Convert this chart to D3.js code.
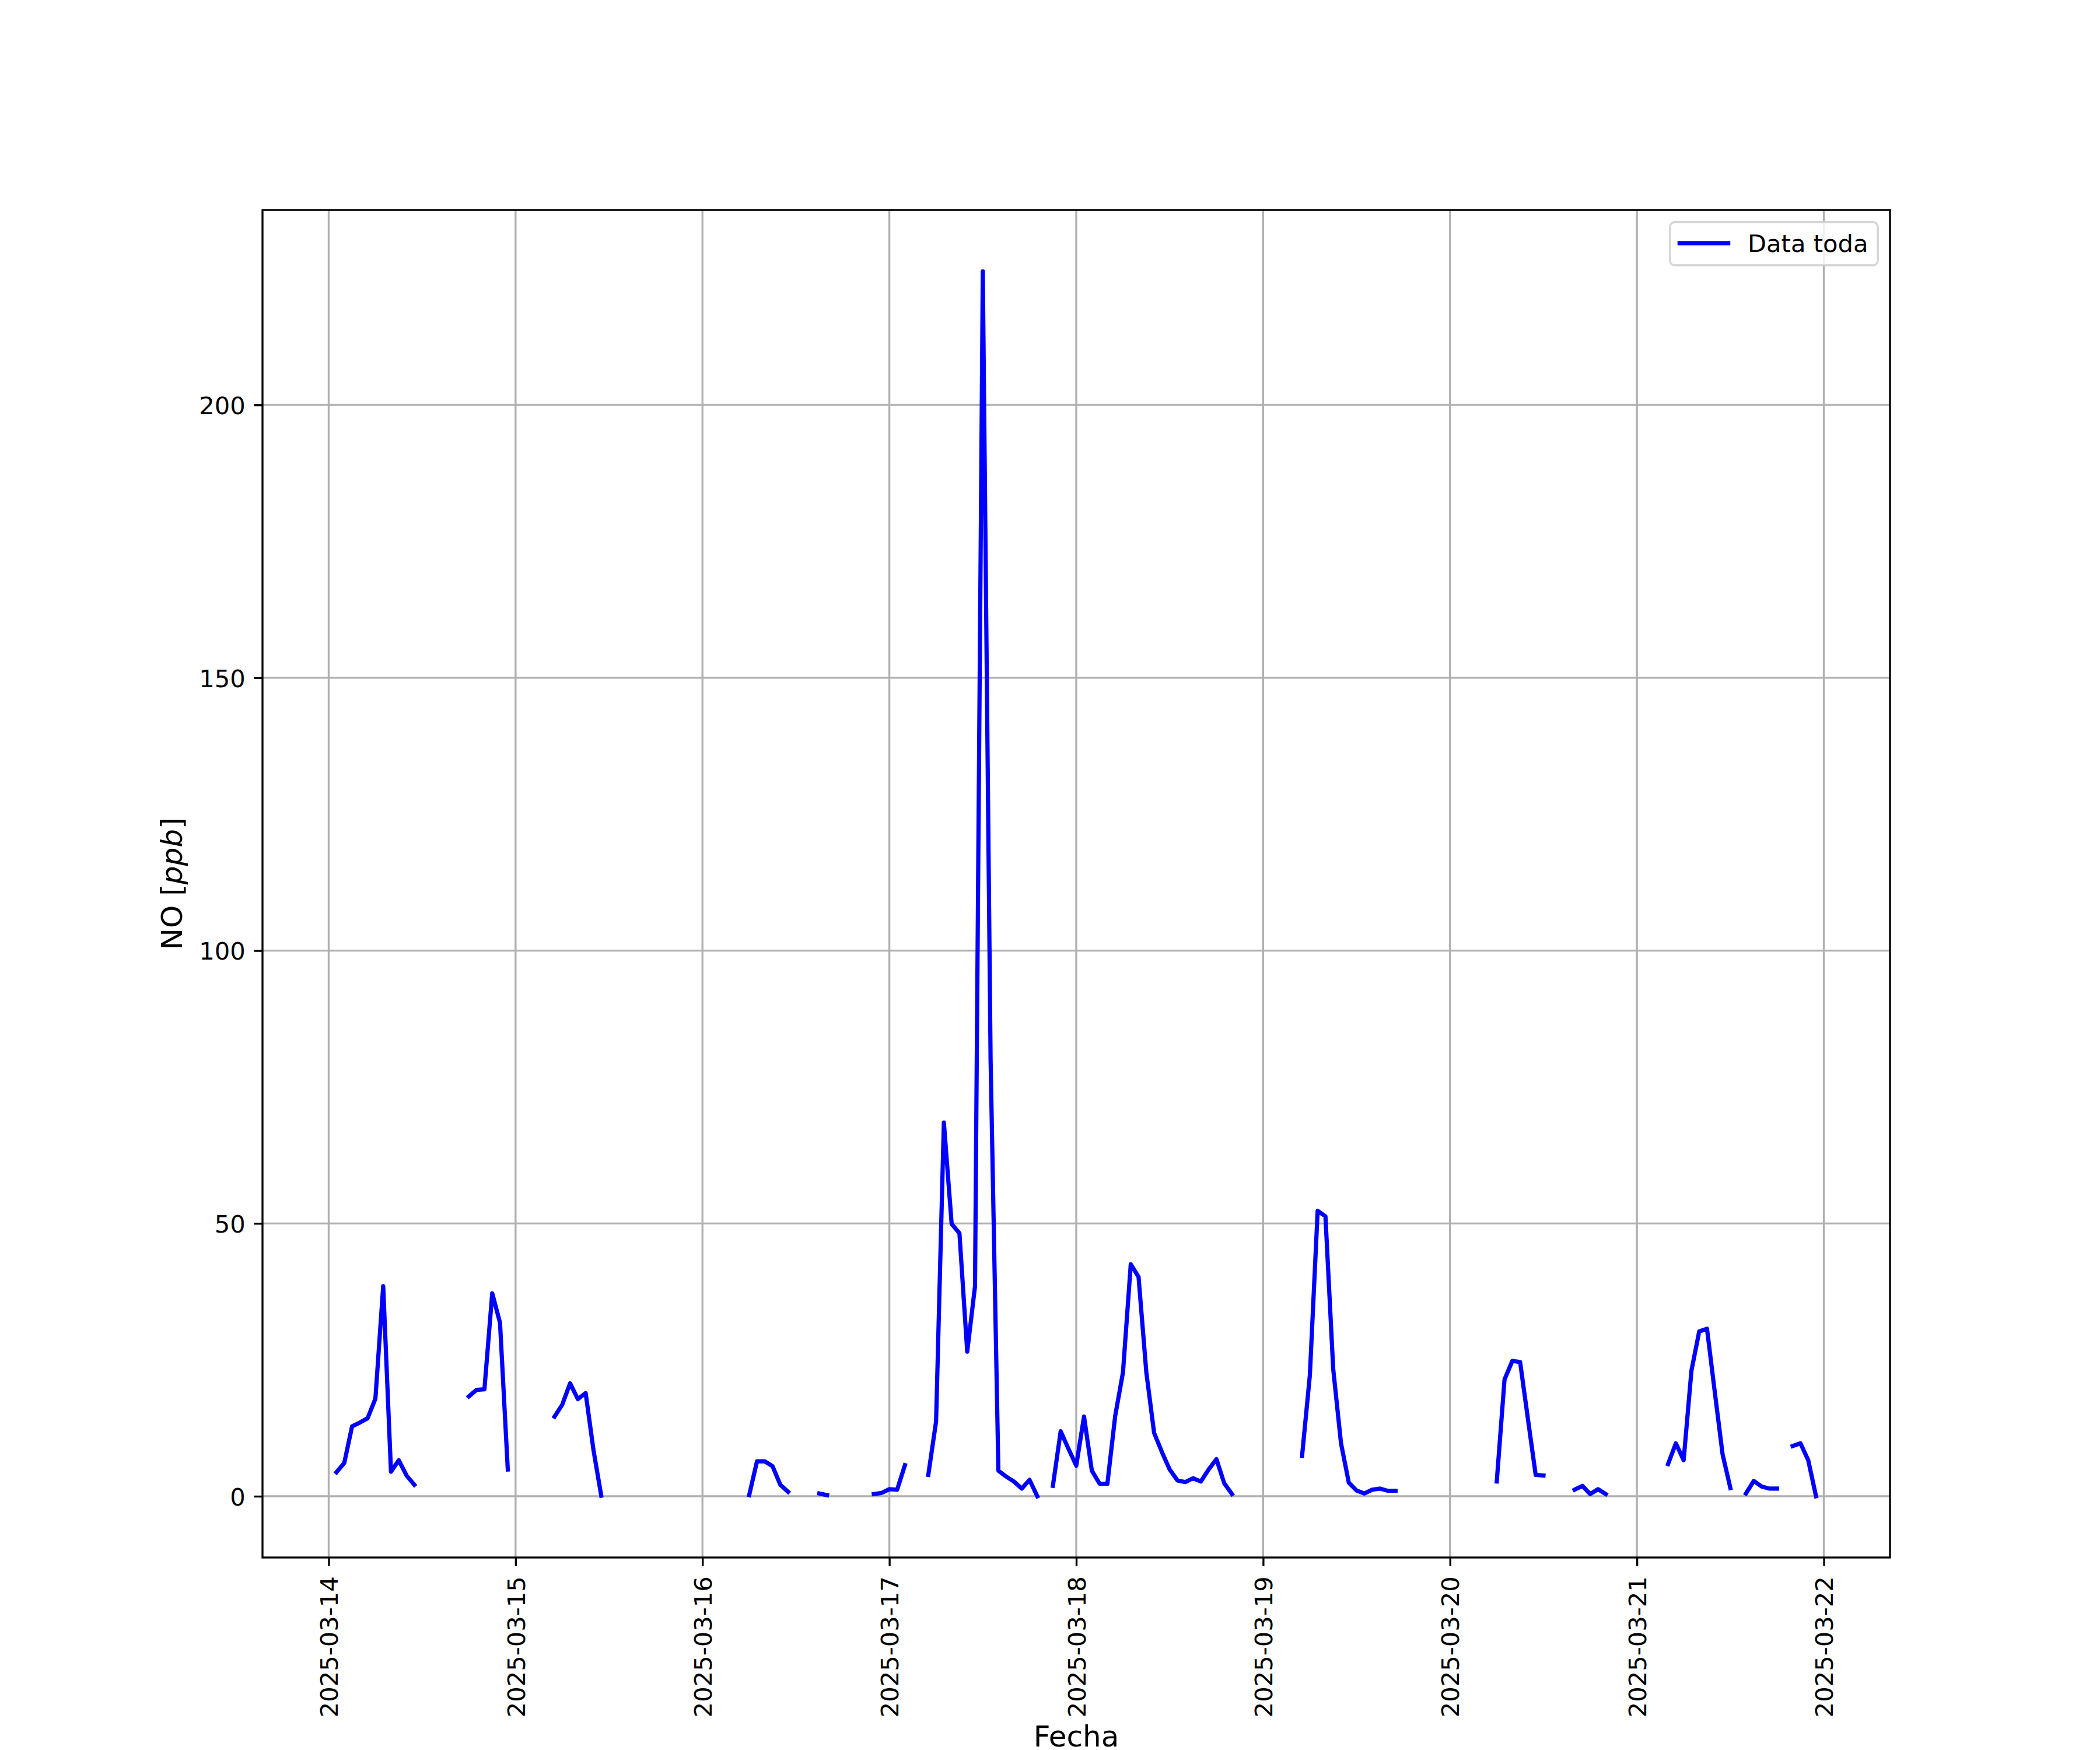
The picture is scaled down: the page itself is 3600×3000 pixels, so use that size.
<!DOCTYPE html>
<html>
<head>
<meta charset="utf-8">
<script src="https://cdn.jsdelivr.net/npm/d3@7"></script>
<style>
  html, body { margin: 0; padding: 0; background: #ffffff; }
  svg { display: block; }
  text { font-family: "DejaVu Sans", sans-serif; fill: #000; }
</style>
</head>
<body>
<script>
// ---------------- DATA (hourly NO values, null = missing) ----------------
const startDay = "2025-03-14";
const dayLabels = ["2025-03-14","2025-03-15","2025-03-16","2025-03-17","2025-03-18","2025-03-19","2025-03-20","2025-03-21"];
const day14 = [null, 4.4, 6.1, 12.8, 13.5, 14.3, 17.9, 38.5, 4.5, 6.6, 3.8, 2.1, null, null, null, null, null, null, 18.3, 19.5, 19.6, 37.2, 31.8, 4.9];
const day15 = [null, null, null, null, null, 14.6, 16.8, 20.7, 17.8, 18.9, 8.5, 0.1, null, null, null, null, null, null, null, null, null, null, null, null];
const day16 = [null, null, null, null, null, null, 0.2, 6.4, 6.4, 5.5, 2.1, 0.8, null, null, null, 0.5, 0.2, null, null, null, null, null, 0.4, 0.6];
const day17 = [1.3, 1.2, 5.7, null, null, 3.9, 13.7, 68.5, 49.9, 48.2, 26.5, 38.5, 224.5, 80.0, 4.7, 3.6, 2.7, 1.4, 3.0, 0.0, null, 1.9, 11.9, 8.7];
const day18 = [5.6, 14.6, 4.7, 2.3, 2.3, 14.7, 22.7, 42.5, 40.2, 22.7, 11.6, 8.1, 4.9, 2.9, 2.6, 3.3, 2.7, 4.9, 6.8, 2.4, 0.4, null, null, null];
const day19 = [null, null, null, null, null, 7.4, 22.2, 52.3, 51.3, 23.3, 9.7, 2.5, 1.05, 0.5, 1.2, 1.4, 1.0, 1.0, null, null, null, null, null, null];
const day20 = [null, null, null, null, null, null, 2.7, 21.4, 24.8, 24.6, 14.2, 3.9, 3.8, null, null, null, 1.2, 1.9, 0.4, 1.3, 0.4, null, null, null];
const day21 = [null, null, null, null, 5.9, 9.7, 6.6, 23.0, 30.2, 30.7, 19.1, 7.7, 1.5, null, 0.5, 2.8, 1.8, 1.4, 1.4, null, 9.2, 9.7, 6.6, 0.0];
const yTicks = [0, 50, 100, 150, 200];
const seriesName = "Data toda";
const xLabel = "Fecha";

// ---------------- LAYOUT ----------------
const W = 3600, H = 3000;
const L = 450, R = 3240, T = 360, B = 2670;
const PT = 300 / 72;             // px per point (300 dpi)
const tickFont = 10 * PT;        // 41.67
const labelFont = 12 * PT;       // 50
const tickLen = 3.5 * PT, tickPad = 3.5 * PT;
const thin = 0.8 * PT;
const lineW = 7.2;

const days = [day14, day15, day16, day17, day18, day19, day20, day21];
const t0 = d3.utcParse("%Y-%m-%d")(startDay);
const data = [];
days.forEach((arr, di) => arr.forEach((v, hi) => {
  data.push({ t: d3.utcHour.offset(t0, di * 24 + hi), v: v });
}));
const valid = data.filter(d => d.v !== null);

const tExt = d3.extent(valid, d => d.t);
const tSpan = tExt[1] - tExt[0];
const x = d3.scaleUtc()
  .domain([new Date(+tExt[0] - 0.05 * tSpan), new Date(+tExt[1] + 0.05 * tSpan)])
  .range([L, R]);
const vExt = d3.extent(valid, d => d.v);
const vSpan = vExt[1] - vExt[0];
const y = d3.scaleLinear()
  .domain([vExt[0] - 0.05 * vSpan, vExt[1] + 0.05 * vSpan])
  .range([B, T]);

const svg = d3.select("body").append("svg").attr("width", W).attr("height", H);
svg.append("rect").attr("width", W).attr("height", H).attr("fill", "#fff");

const xTicks = x.ticks(d3.utcDay.every(1));
const fmt = d3.utcFormat("%Y-%m-%d");

// grid
const grid = svg.append("g");
grid.selectAll("line.gx").data(xTicks).join("line")
  .attr("x1", d => x(d)).attr("x2", d => x(d)).attr("y1", T).attr("y2", B)
  .attr("stroke", "#b0b0b0").attr("stroke-width", thin);
grid.selectAll("line.gy").data(yTicks).join("line")
  .attr("x1", L).attr("x2", R).attr("y1", d => y(d)).attr("y2", d => y(d))
  .attr("stroke", "#b0b0b0").attr("stroke-width", thin);

// data line
const line = d3.line().defined(d => d.v !== null).x(d => x(d.t)).y(d => y(d.v));
svg.append("path").datum(data)
  .attr("d", line)
  .attr("fill", "none").attr("stroke", "#0000ff")
  .attr("stroke-width", lineW)
  .attr("stroke-linejoin", "round").attr("stroke-linecap", "square");

// axes
const yAxis = svg.append("g").attr("transform", `translate(${L},0)`)
  .call(d3.axisLeft(y).tickValues(yTicks).tickSize(tickLen).tickPadding(tickPad).tickFormat(d3.format("d")));
yAxis.select(".domain").remove();
yAxis.selectAll(".tick line").attr("stroke", "#000").attr("stroke-width", thin);
yAxis.selectAll(".tick text").attr("font-size", tickFont).attr("dy", "0.365em")
  .attr("font-family", "DejaVu Sans").attr("fill", "#000");

const xAxis = svg.append("g").attr("transform", `translate(0,${B})`)
  .call(d3.axisBottom(x).tickValues(xTicks).tickSize(tickLen).tickPadding(tickPad).tickFormat(fmt));
xAxis.select(".domain").remove();
xAxis.selectAll(".tick line").attr("stroke", "#000").attr("stroke-width", thin);
xAxis.selectAll(".tick text")
  .attr("font-size", tickFont).attr("font-family", "DejaVu Sans").attr("fill", "#000")
  .attr("x", 0).attr("y", 0).attr("dy", null)
  .attr("text-anchor", "end")
  .attr("transform", `translate(${0.365 * tickFont},${tickLen + tickPad + 3}) rotate(-90)`);

// spines
svg.append("rect").attr("x", L).attr("y", T).attr("width", R - L).attr("height", B - T)
  .attr("fill", "none").attr("stroke", "#000").attr("stroke-width", thin);

// axis labels
svg.append("text").attr("x", (L + R) / 2).attr("y", 2994)
  .attr("text-anchor", "middle").attr("font-size", labelFont).text(xLabel);

const yl = svg.append("text").attr("transform", `translate(312,${(T + B) / 2}) rotate(-90)`)
  .attr("text-anchor", "middle").attr("font-size", labelFont);
yl.append("tspan").text("NO [");
yl.append("tspan").attr("font-style", "italic").text("ppb");
yl.append("tspan").text("]");

// legend
const pad = 0.4 * tickFont, handleLen = 2.0 * tickFont, handlePad = 0.8 * tickFont, axPad = 0.5 * tickFont;
const lg = svg.append("g");
const frame = lg.append("rect");
const ltext = lg.append("text").attr("font-size", tickFont).text(seriesName);
const tw = ltext.node().getComputedTextLength();
const boxW = pad * 2 + handleLen + handlePad + tw;
const boxH = 74;
const bx = R - axPad - boxW, by = T + axPad;
frame.attr("x", bx).attr("y", by).attr("width", boxW).attr("height", boxH)
  .attr("rx", 0.2 * tickFont).attr("ry", 0.2 * tickFont)
  .attr("fill", "#fff").attr("fill-opacity", 0.8)
  .attr("stroke", "#cccccc").attr("stroke-opacity", 0.8).attr("stroke-width", 1.0 * PT * 0.85);
lg.append("line")
  .attr("x1", bx + pad).attr("x2", bx + pad + handleLen)
  .attr("y1", by + 36).attr("y2", by + 36)
  .attr("stroke", "#0000ff").attr("stroke-width", lineW).attr("stroke-linecap", "square");
ltext.attr("x", bx + pad + handleLen + handlePad).attr("y", by + 51);
</script>
</body>
</html>
